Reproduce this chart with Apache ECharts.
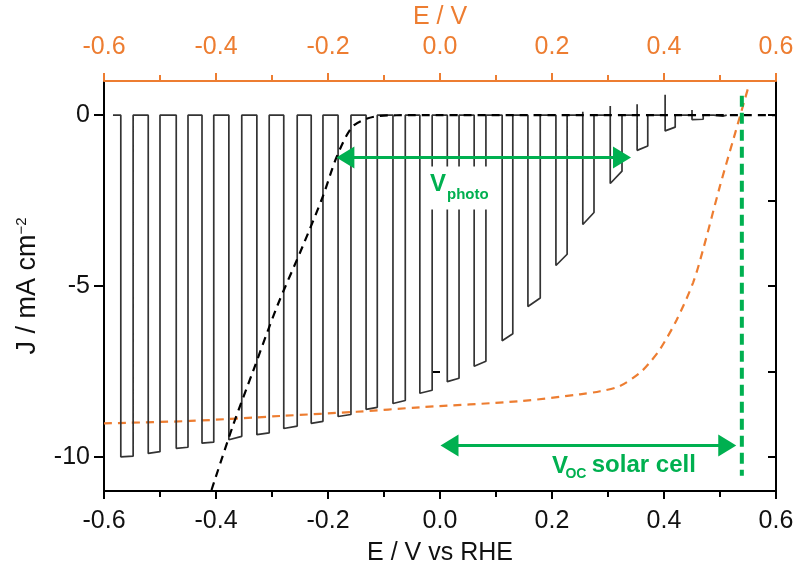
<!DOCTYPE html>
<html>
<head>
<meta charset="utf-8">
<script src="https://cdn.jsdelivr.net/npm/echarts@6/dist/echarts.min.js"></script>
<style>
html,body{margin:0;padding:0;background:#fff;}
#chart{width:800px;height:579px;}
</style>
</head>
<body>
<div id="chart"></div>
<script>
// ---- Data ----
// chopped-light photocurrent (bottom axis E / V vs RHE)
const traceStart = -0.584;
const traceEnd = 0.512;
const pulseOn  = [-0.570,-0.521,-0.471,-0.425,-0.377,-0.327,-0.279,-0.230,-0.182,-0.132,-0.084,-0.036,0.013,0.061,0.111,0.157,0.207,0.255,0.304,0.352,0.402,0.450,0.489];
const pulseOff = [-0.548,-0.500,-0.450,-0.404,-0.354,-0.305,-0.255,-0.209,-0.159,-0.112,-0.062,-0.014,0.034,0.082,0.130,0.179,0.227,0.275,0.325,0.371,0.420,0.470,0.505];
const jLightStart = [-10.0,-9.9,-9.75,-9.6,-9.5,-9.35,-9.17,-9.02,-8.82,-8.61,-8.44,-8.14,-7.8,-7.35,-6.6,-5.6,-4.4,-3.2,-2.0,-1.03,-0.46,-0.13,-0.04];
const jLightEnd   = [-9.98,-9.85,-9.72,-9.57,-9.4,-9.3,-9.1,-8.96,-8.76,-8.55,-8.35,-8.05,-7.7,-7.2,-6.4,-5.35,-4.07,-2.85,-1.64,-0.9,-0.35,-0.12,-0.03];
const jSpike      = [0,0,0,0,0,0,0,0,0,0,0,0,0,0,0,0,0,0.1,0.27,0.32,0.6,0.15,0.05];

// dark current (black dashed, bottom axis)
const darkV = [-0.408,-0.370,-0.334,-0.291,-0.245,-0.209,-0.184,-0.157,-0.130,-0.107,-0.05,0.6];
const darkJ = [-10.97,-9.1,-7.5,-5.6,-3.83,-2.37,-1.2,-0.35,-0.1,-0.02,0,0];

// solar cell J-V (orange dashed, top axis E / V)
const solarV = [-0.6,-0.446,-0.280,-0.149,-0.036,0.143,0.25,0.286,0.321,0.357,0.375,0.393,0.423,0.452,0.470,0.5,0.524,0.552];
const solarJ = [-9.02,-8.95,-8.8,-8.68,-8.55,-8.37,-8.17,-8.08,-7.93,-7.54,-7.23,-6.85,-5.98,-4.9,-3.92,-2.07,-0.70,0.9];

// Voc of solar cell (green dashed vertical)
const vocV = 0.539;
const vocJRange = [0.57, -10.55];

// arrows
const vphotoArrowV = [-0.185, 0.341];
const vphotoArrowJ = -1.24;
const vocArrowV = [0.001, 0.529];
const vocArrowJ = -9.67;

// tick labels
const xTicks = [-0.6,-0.4,-0.2,0.0,0.2,0.4,0.6];
const yMajor = [-10,-5,0];
const yMinor = [-7.5,-2.5];

// ---- build ----
const trace = [[traceStart, 0]];
for (let i = 0; i < pulseOn.length; i++) {
  trace.push([pulseOn[i], 0]);
  if (jSpike[i]) { trace.push([pulseOn[i], jSpike[i]]); }
  trace.push([pulseOn[i], jLightStart[i]]);
  trace.push([pulseOff[i], jLightEnd[i]]);
  trace.push([pulseOff[i], 0]);
}
trace.push([traceEnd, 0]);

const dark = darkV.map((v, i) => [v, darkJ[i]]);
const solar = solarV.map((v, i) => [v, solarJ[i]]);

const SANS = "'Liberation Sans', Arial, sans-serif";
const ORANGE = '#ED7D31';
const GREEN = '#00B050';
const fmt = v => (Math.abs(v) < 1e-9 ? 0 : v).toFixed(1);

const chart = echarts.init(document.getElementById('chart'), null, {renderer: 'canvas'});
const arrowHalf = 0.016;

function textPoint(v, j, text, size) {
  return {
    value: [v, j],
    label: {
      show: true, position: 'inside', formatter: text, align: 'left', verticalAlign: 'middle',
      fontFamily: SANS, fontSize: size, fontWeight: 'bold', color: GREEN, opacity: 1
    }
  };
}

chart.setOption({
  animation: false,
  backgroundColor: '#fff',
  grid: {left: 104, right: 24, top: 81, bottom: 88, containLabel: false, outerBoundsMode: 'none'},
  xAxis: [
    {
      type: 'value', position: 'bottom', min: -0.6, max: 0.6, interval: 0.2,
      axisLine: {show: true, onZero: false, lineStyle: {color: '#000', width: 2}},
      axisTick: {show: true, inside: false, length: 8, lineStyle: {color: '#000', width: 2}},
      minorTick: {show: true, splitNumber: 2, length: 6, lineStyle: {color: '#000', width: 2}},
      splitLine: {show: false}, minorSplitLine: {show: false},
      axisLabel: {fontFamily: SANS, fontSize: 25, color: '#111', margin: 18, formatter: fmt},
      name: 'E / V vs RHE', nameLocation: 'middle', nameGap: 50,
      nameTextStyle: {fontFamily: SANS, fontSize: 25, color: '#111'}
    },
    {
      type: 'value', position: 'top', min: -0.6, max: 0.6, interval: 0.2,
      axisLine: {show: true, onZero: false, lineStyle: {color: ORANGE, width: 2}},
      axisTick: {show: true, inside: false, length: 8, lineStyle: {color: ORANGE, width: 2}},
      minorTick: {show: true, splitNumber: 2, length: 6, lineStyle: {color: ORANGE, width: 2}},
      splitLine: {show: false}, minorSplitLine: {show: false},
      axisLabel: {fontFamily: SANS, fontSize: 25, color: ORANGE, margin: 21, formatter: fmt},
      name: 'E / V', nameLocation: 'middle', nameGap: 49,
      nameTextStyle: {fontFamily: SANS, fontSize: 25, color: ORANGE}
    }
  ],
  yAxis: [
    {
      type: 'value', position: 'left', min: -11, max: 1,
      axisLine: {show: true, onZero: false, lineStyle: {color: '#000', width: 2}},
      axisTick: {show: true, inside: false, length: 10, customValues: yMajor, lineStyle: {color: '#000', width: 2}},
      axisLabel: {fontFamily: SANS, fontSize: 25, color: '#111', margin: 14, customValues: yMajor},
      splitLine: {show: false},
      name: '{a|J / mA cm}{b|−2}', nameLocation: 'middle', nameGap: 63, nameRotate: 90,
      nameTextStyle: {
        rich: {
          a: {fontFamily: SANS, fontSize: 27, color: '#111'},
          b: {fontFamily: SANS, fontSize: 15, color: '#111', verticalAlign: 'top', padding: [0,0,12,0]}
        }
      }
    },
    {
      type: 'value', position: 'left', min: -11, max: 1,
      axisLine: {show: false},
      axisTick: {show: true, inside: false, length: 7, customValues: yMinor, lineStyle: {color: '#000', width: 2}},
      axisLabel: {show: false},
      splitLine: {show: false}
    },
    {
      type: 'value', position: 'right', min: -11, max: 1,
      axisLine: {show: true, onZero: false, lineStyle: {color: '#000', width: 2}},
      axisTick: {show: true, inside: true, length: 8, customValues: yMajor.concat(yMinor), lineStyle: {color: '#000', width: 2}},
      axisLabel: {show: false},
      splitLine: {show: false}
    }
  ],
  series: [
    {
      name: 'solar', type: 'line', xAxisIndex: 1, yAxisIndex: 0, data: solar,
      smooth: 0.3, showSymbol: false, symbol: 'none',
      lineStyle: {color: ORANGE, width: 2.2, type: [8, 6]}, z: 2
    },
    {
      name: 'chopped', type: 'line', xAxisIndex: 0, yAxisIndex: 0, data: trace,
      showSymbol: false, symbol: 'none',
      lineStyle: {color: '#333', width: 1.7}, z: 3
    },
    {
      name: 'dark', type: 'line', xAxisIndex: 0, yAxisIndex: 0, data: dark,
      smooth: 0.3, showSymbol: false, symbol: 'none',
      lineStyle: {color: '#000', width: 2.2, type: [8, 6]}, z: 4
    },
    {
      name: 'voc', type: 'line', xAxisIndex: 0, yAxisIndex: 0,
      data: [[vocV, vocJRange[0]], [vocV, vocJRange[1]]],
      showSymbol: false, symbol: 'none',
      lineStyle: {color: GREEN, width: 4, type: [11, 6]}, z: 5,
      markLine: {
        silent: true, symbol: ['triangle', 'triangle'], symbolSize: [22, 18],
        label: {show: false},
        lineStyle: {color: GREEN, width: 3, type: 'solid'},
        data: [
          [{coord: [vphotoArrowV[0] + arrowHalf, vphotoArrowJ]}, {coord: [vphotoArrowV[1] - arrowHalf, vphotoArrowJ]}],
          [{coord: [vocArrowV[0] + arrowHalf, vocArrowJ]}, {coord: [vocArrowV[1] - arrowHalf, vocArrowJ]}]
        ]
      }
    },
    {
      name: 'labelBox', type: 'scatter', xAxisIndex: 0, yAxisIndex: 0,
      symbol: 'rect', symbolSize: [67, 43], itemStyle: {color: '#fff', opacity: 1}, z: 6, silent: true,
      data: [[0.0384, -2.13]]
    },
    {
      name: 'labels', type: 'scatter', xAxisIndex: 0, yAxisIndex: 0,
      symbolSize: 1, itemStyle: {color: 'rgba(0,0,0,0)', opacity: 1}, z: 7, silent: true,
      data: [
        textPoint(-0.0179, -2.02, 'V', 24),
        textPoint(0.0125, -2.33, 'photo', 15),
        textPoint(0.200, -10.28, 'V', 24),
        textPoint(0.224, -10.52, 'OC', 14),
        textPoint(0.271, -10.24, 'solar cell', 24)
      ]
    }
  ]
});
</script>
</body>
</html>
